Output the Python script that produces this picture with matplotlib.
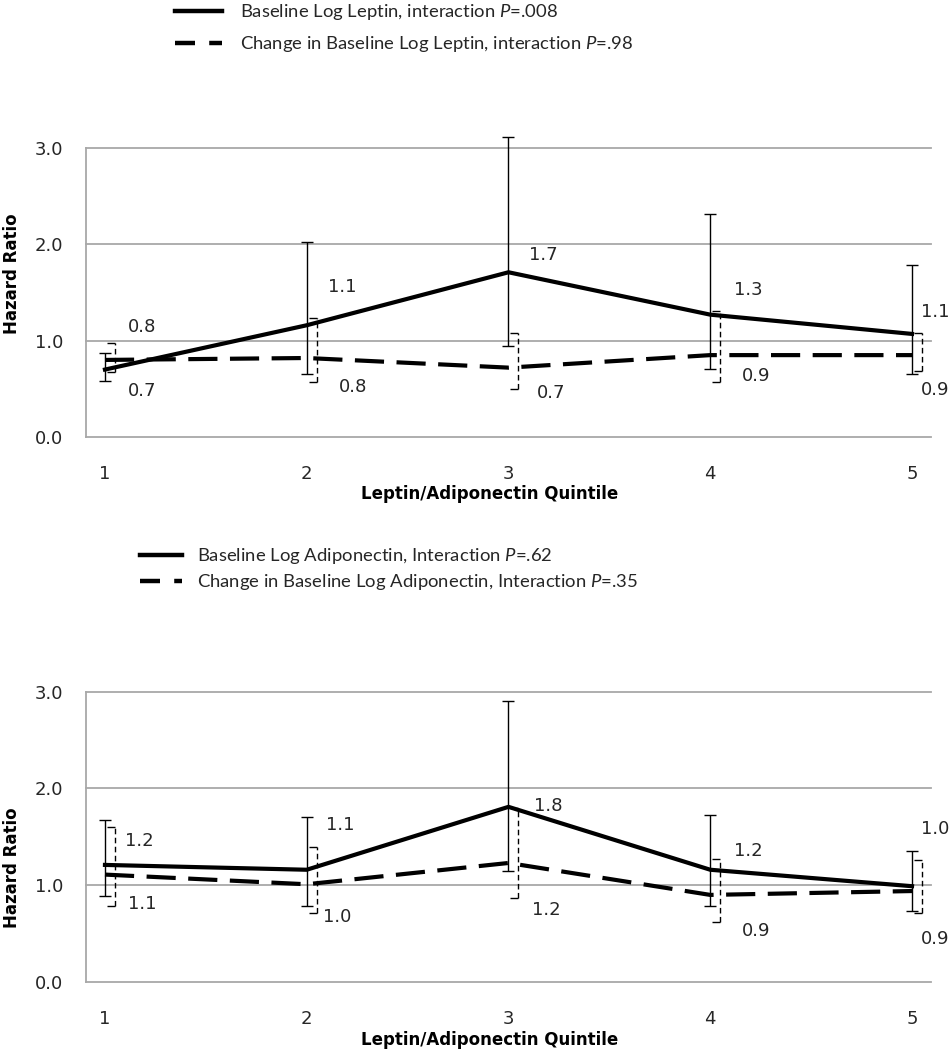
import matplotlib
matplotlib.use("Agg")
import matplotlib.pyplot as plt
from matplotlib.lines import Line2D
from matplotlib.path import Path
from matplotlib.transforms import offset_copy

plt.rcParams['mathtext.fontset'] = 'custom'
plt.rcParams['mathtext.rm'] = 'Lato'
plt.rcParams['mathtext.it'] = 'Lato:italic'

quintiles = [1, 2, 3, 4, 5]
xtick_labels = ["1", "2", "3", "4", "5"]

# Top panel: leptin
lep_base_hr = [0.70, 1.16, 1.71, 1.27, 1.07]
lep_base_lo = [0.58, 0.65, 0.94, 0.71, 0.65]
lep_base_hi = [0.87, 2.02, 3.11, 2.31, 1.79]
lep_base_lab = ["0.7", "1.1", "1.7", "1.3", "1.1"]
lep_chg_hr = [0.80, 0.82, 0.72, 0.85, 0.85]
lep_chg_lo = [0.67, 0.57, 0.50, 0.57, 0.69]
lep_chg_hi = [0.98, 1.24, 1.08, 1.31, 1.08]
lep_chg_lab = ["0.8", "0.8", "0.7", "0.9", "0.9"]

# Bottom panel: adiponectin
adi_base_hr = [1.21, 1.16, 1.81, 1.16, 0.99]
adi_base_lo = [0.89, 0.79, 1.15, 0.79, 0.73]
adi_base_hi = [1.67, 1.71, 2.90, 1.73, 1.35]
adi_base_lab = ["1.2", "1.1", "1.8", "1.2", "1.0"]
adi_chg_hr = [1.11, 1.01, 1.23, 0.90, 0.94]
adi_chg_lo = [0.79, 0.71, 0.87, 0.62, 0.71]
adi_chg_hi = [1.60, 1.39, 1.80, 1.27, 1.26]
adi_chg_lab = ["1.1", "1.0", "1.2", "0.9", "0.9"]

yticks = [0.0, 1.0, 2.0, 3.0]

# label offsets in pixels (dx right, dy up)
lep_base_off = [(37, -21), (36, 38), (35, 17), (38, 25), (23, 22)]
lep_chg_off = [(37, 33), (46, -29), (43, -25), (46, -21), (23, -35)]
adi_base_off = [(34, 24), (34, 45), (40, 1), (38, 19), (23, 57)]
adi_chg_off = [(37, -29), (30, -33), (38, -47), (46, -36), (23, -48)]

W, H = 953, 1050
fig = plt.figure(figsize=(W / 100, H / 100), dpi=100)

GRID = '#a8a8a8'
TXT = '#262626'
half_cap = Path([(-1, 0), (0, 0)], [Path.MOVETO, Path.LINETO])


def panel(rect, b_hr, b_lo, b_hi, b_lab, b_off, c_hr, c_lo, c_hi, c_lab, c_off):
    ax = fig.add_axes(rect)
    ax.set_xlim(1 - 0.094, 5 + 0.094)
    ax.set_ylim(0, 3.0)
    for s in ['top', 'right', 'bottom']:
        ax.spines[s].set_visible(False)
    ax.spines['left'].set_color(GRID)
    ax.spines['left'].set_linewidth(1.3)
    for yv in yticks:
        ax.axhline(yv, color=GRID, lw=1.3, zorder=0, clip_on=False)
    ax.set_yticks(yticks)
    ax.set_yticklabels([f"{v:.1f}" for v in yticks])
    ax.set_xticks(quintiles)
    ax.set_xticklabels(xtick_labels)
    ax.tick_params(axis='y', length=0, pad=16.5, labelsize=13, labelcolor=TXT)
    ax.tick_params(axis='x', length=0, pad=20, labelsize=13, labelcolor=TXT)

    # solid series error bars
    eb = ax.errorbar(quintiles, b_hr,
                     yerr=[[h - l for h, l in zip(b_hr, b_lo)], [u - h for h, u in zip(b_hr, b_hi)]],
                     fmt='none', ecolor='black', elinewidth=1.0, capsize=4.3, capthick=1.0, zorder=2)
    for art in eb.get_children():
        art.set_clip_on(False)
    # dashed series error bars (shifted right, half caps)
    tr = offset_copy(ax.transData, fig=fig, x=10, y=0, units='dots')
    vl = ax.vlines(quintiles, c_lo, c_hi, colors='black', linewidth=1.0,
                   linestyles=(0, (4, 2.5)), transform=tr, zorder=2)
    vl.set_clip_on(False)
    for arr in (c_lo, c_hi):
        ax.plot(quintiles, arr, linestyle='none', marker=half_cap, markersize=12,
                markeredgewidth=1.0, color='black', transform=tr, zorder=2, clip_on=False)

    ax.plot(quintiles, b_hr, color='black', lw=3.0, solid_joinstyle='round', zorder=3)
    ax.plot(quintiles, c_hr, color='black', lw=3.0, linestyle=(0, (7, 3)), zorder=3)

    for x, y, t, (dx, dy) in zip(quintiles, b_hr, b_lab, b_off):
        ax.annotate(t, (x, y), xytext=(dx, dy), textcoords='offset pixels',
                    ha='center', va='center', fontsize=13, color=TXT, annotation_clip=False)
    for x, y, t, (dx, dy) in zip(quintiles, c_hr, c_lab, c_off):
        ax.annotate(t, (x, y), xytext=(dx, dy), textcoords='offset pixels',
                    ha='center', va='center', fontsize=13, color=TXT, annotation_clip=False)
    return ax


def px(x, y):
    return x / W, 1 - y / H


ax1 = panel([86 / W, 1 - 437 / H, (931 - 86) / W, (437 - 148) / H],
            lep_base_hr, lep_base_lo, lep_base_hi, lep_base_lab, lep_base_off,
            lep_chg_hr, lep_chg_lo, lep_chg_hi, lep_chg_lab, lep_chg_off)
ax2 = panel([86 / W, 1 - 982 / H, (931 - 86) / W, (982 - 691.7) / H],
            adi_base_hr, adi_base_lo, adi_base_hi, adi_base_lab, adi_base_off,
            adi_chg_hr, adi_chg_lo, adi_chg_hi, adi_chg_lab, adi_chg_off)

# axis titles
for (xc, yc) in [(490, 494), (490, 1040)]:
    fig.text(*px(xc, yc), "Leptin/Adiponectin Quintile", family='DejaVu Sans', weight='bold',
             fontsize=12, ha='center', va='center', color='black')
for (xc, yc) in [(12, 274), (12, 868)]:
    fig.text(*px(xc, yc), "Hazard Ratio", family='DejaVu Sans', weight='bold',
             fontsize=12, ha='center', va='center', rotation=90, color='black')


def legend_entry(x0, x1, y, xt, text, dashed):
    a, b = px(x0, y)
    c, _ = px(x1, y)
    if dashed:
        ln = Line2D([a, c], [b, b], transform=fig.transFigure, color='black', lw=3.2,
                    linestyle=(0, (4.5, 3.2)))
    else:
        ln = Line2D([a, c], [b, b], transform=fig.transFigure, color='black', lw=3.2)
    fig.add_artist(ln)
    fig.text(*px(xt, y + 1), text, family='Lato', fontsize=13.3, ha='left', va='center',
             color=TXT)


legend_entry(175, 222, 11, 240, "Baseline Log Leptin, interaction $P$=.008", False)
legend_entry(175, 222, 43, 240, "Change in Baseline Log Leptin, interaction $P$=.98", True)
legend_entry(140, 182, 555, 197, "Baseline Log Adiponectin, Interaction $P$=.62", False)
legend_entry(140, 182, 581, 197, "Change in Baseline Log Adiponectin, Interaction $P$=.35", True)

fig.savefig("out.png", dpi=100)
